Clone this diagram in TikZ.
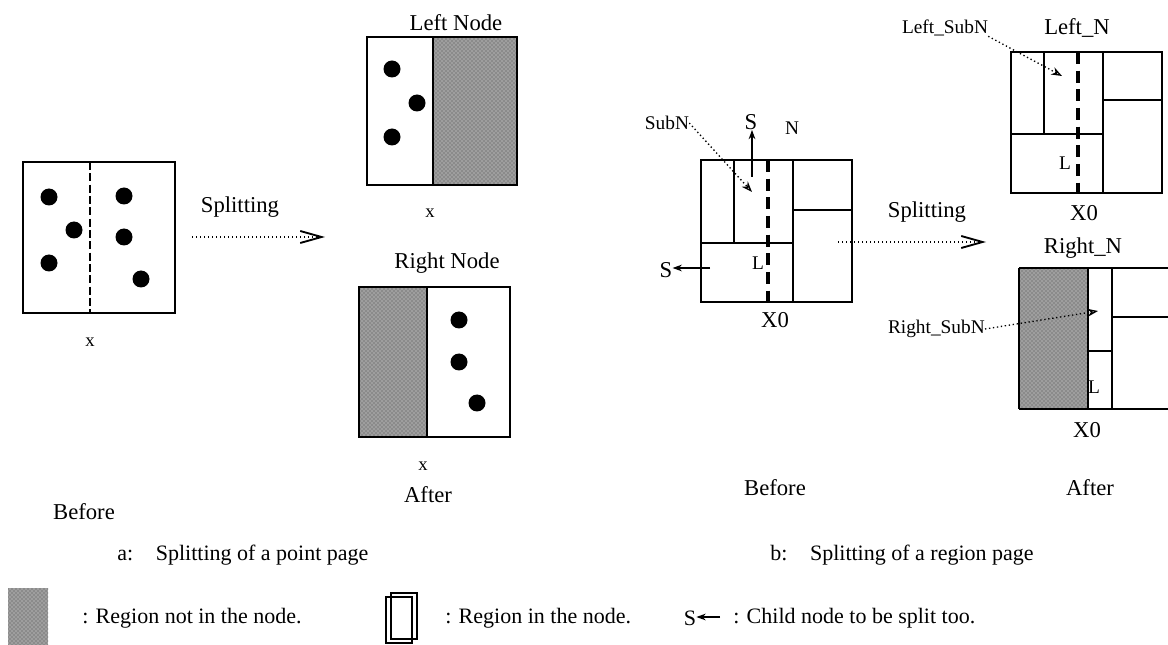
\documentclass[tikz,border=0pt]{standalone}
\usepackage{fontspec}
\setmainfont{Liberation Serif}
\usetikzlibrary{arrows.meta,patterns}
\begin{document}
\begin{tikzpicture}[x=0.75pt,y=-0.75pt,
  txt/.style={inner sep=0pt, font=\fontsize{17}{19}\selectfont},
  captext/.style={inner sep=0pt, font=\fontsize{16.5}{18}\selectfont},
  legtext/.style={inner sep=0pt, font=\fontsize{16.5}{18}\selectfont},
  lbl/.style={inner sep=0pt, font=\fontsize{14.5}{16}\selectfont},
  xl/.style={inner sep=0pt, font=\fontsize{14}{16}\selectfont},
  frame/.style={draw=black, line width=1.1pt},
  shade/.style={fill=black!38},
  texture/.style={pattern=crosshatch dots, pattern color=black!70},
  dot/.style={fill=black},
  ln/.style={line width=1.1pt},
  cut/.style={line width=2.6pt, dash pattern=on 9pt off 5pt},
  thincut/.style={line width=1.4pt, dash pattern=on 6pt off 2.5pt},
  splitarrow/.style={dotted, line width=1pt, -{Straight Barb[length=16pt,width=9pt,line width=1.4pt]}},
  subarrow/.style={dotted, line width=1pt, -{Stealth[open,length=8pt,width=6pt,line width=1pt]}},
  childarrow/.style={line width=1pt, -{Stealth[length=7pt,width=5pt]}}]
\useasboundingbox (0,0) rectangle (1168,645);

% ---------- Panel a: before ----------
\draw[frame] (23,162) rectangle (175,313);
\draw[thincut] (90,162) -- (90,313);
\foreach \p in {(49,197),(74,230),(49,263),(124,196),(124,237),(141,279)}
  \fill[dot] \p circle (8.5);
\node[xl] (xa) at (90,342) {x};

\node[txt] (splita) at (240,207) {Splitting};
\coordinate (sa1) at (192,237);
\coordinate (sa2) at (325,237);
\draw[splitarrow] (sa1) -- (sa2);

% ---------- Panel a: left node ----------
\node[txt] (leftnode) at (456,23) {Left Node};
\fill[shade] (433,37) rectangle (517,185);
\fill[texture] (433,37) rectangle (517,185);
\draw[frame] (367,37) rectangle (517,185);
\draw[ln] (433,37) -- (433,185);
\foreach \p in {(392,69),(417,103),(392,137)}
  \fill[dot] \p circle (8.5);
\node[xl] (xl1) at (430,213) {x};

% ---------- Panel a: right node ----------
\node[txt] (rightnode) at (447,263) {Right Node};
\fill[shade] (359,287) rectangle (427,437);
\fill[texture] (359,287) rectangle (427,437);
\draw[frame] (359,287) rectangle (510,437);
\draw[ln] (427,287) -- (427,437);
\foreach \p in {(459,320),(459,362),(477,403)}
  \fill[dot] \p circle (8.5);
\node[xl] (xl2) at (423,466) {x};

\node[txt] (aftera) at (428,495) {After};
\node[txt] (beforea) at (84,512) {Before};
\node[captext, anchor=west] (capa) at (117,555) {a:\hspace{17pt}Splitting of a point page};

% ---------- Panel b: before ----------
\draw[frame] (701,160) rectangle (852,302);
\draw[ln] (734,160) -- (734,243);
\draw[ln] (701,243) -- (793,243);
\draw[ln] (793,160) -- (793,302);
\draw[ln] (793,210) -- (852,210);
\draw[cut] (768,160) -- (768,302);
\node[lbl] (Lb) at (758,263) {L};
\node[txt] (X0b) at (775,320) {X0};
\node[txt] (Sb1) at (666,270) {S};
\coordinate (sl1) at (710,268);
\draw[childarrow] (sl1) -- (Sb1.east |- sl1);
\node[txt] (Sb2) at (751,122) {S};
\coordinate (su1) at (752,177);
\draw[childarrow] (su1) -- (su1 |- Sb2.south);
\node[lbl] (Nb) at (792,128) {N};
\node[lbl] (subn) at (667,123) {SubN};
\coordinate (subnend) at (752,192);
\draw[subarrow] (subn.east) -- (subnend);

\node[txt] (splitb) at (927,212) {Splitting};
\coordinate (sb1) at (838,242);
\coordinate (sb2) at (986,242);
\draw[splitarrow] (sb1) -- (sb2);

% ---------- Panel b: Left_N ----------
\node[txt] (leftN) at (1077,28) {Left\_N};
\draw[frame] (1011,52) rectangle (1162,193);
\draw[ln] (1044,52) -- (1044,134);
\draw[ln] (1011,134) -- (1103,134);
\draw[ln] (1103,52) -- (1103,193);
\draw[ln] (1103,100) -- (1162,100);
\draw[cut] (1078,52) -- (1078,193);
\node[lbl] (Ll) at (1065,163) {L};
\node[txt] (X0l) at (1084,213) {X0};
\node[lbl] (leftsub) at (945,28) {Left\_SubN};
\coordinate (leftsubend) at (1062,76);
\draw[subarrow] (leftsub.south east) -- (leftsubend);

% ---------- Panel b: Right_N ----------
\node[txt] (rightN) at (1083,248) {Right\_N};
\fill[shade] (1019,268) rectangle (1088,409);
\fill[texture] (1019,268) rectangle (1088,409);
\draw[ln] (1019,268) -- (1168,268);
\draw[ln] (1019,409) -- (1168,409);
\draw[ln] (1019,268) -- (1019,409);
\draw[ln] (1088,268) -- (1088,409);
\draw[ln] (1112,268) -- (1112,409);
\draw[ln] (1088,351) -- (1112,351);
\draw[ln] (1112,317) -- (1168,317);
\node[lbl] (Lr) at (1094,387) {L};
\node[txt] (X0r) at (1087,430) {X0};
\node[lbl, anchor=east] (rightsub) at (985,329) {Right\_SubN};
\coordinate (rightsubend) at (1098,311);
\draw[subarrow] (rightsub.east) -- (rightsubend);

\node[txt] (beforeb) at (775,488) {Before};
\node[txt] (afterb) at (1090,488) {After};
\node[captext, anchor=west] (capb) at (770,555) {b:\hspace{17pt}Splitting of a region page};

% ---------- Legend ----------
\fill[shade] (8,588) rectangle (48,645);
\fill[texture] (8,588) rectangle (48,645);
\node[legtext, anchor=west] (leg1) at (82,618) {: Region not in the node.};
\draw[ln] (386,597) rectangle (412,643);
\draw[ln] (391,593) rectangle (417,639);
\node[legtext, anchor=west] (leg2) at (445,618) {: Region in the node.};
\node[legtext] (legS) at (690,618) {S};
\coordinate (legarr) at (720,617);
\draw[childarrow] (legarr) -- (legS.east |- legarr);
\node[legtext, anchor=west] (leg3) at (733,618) {: Child node to be split too.};
\end{tikzpicture}
\end{document}
